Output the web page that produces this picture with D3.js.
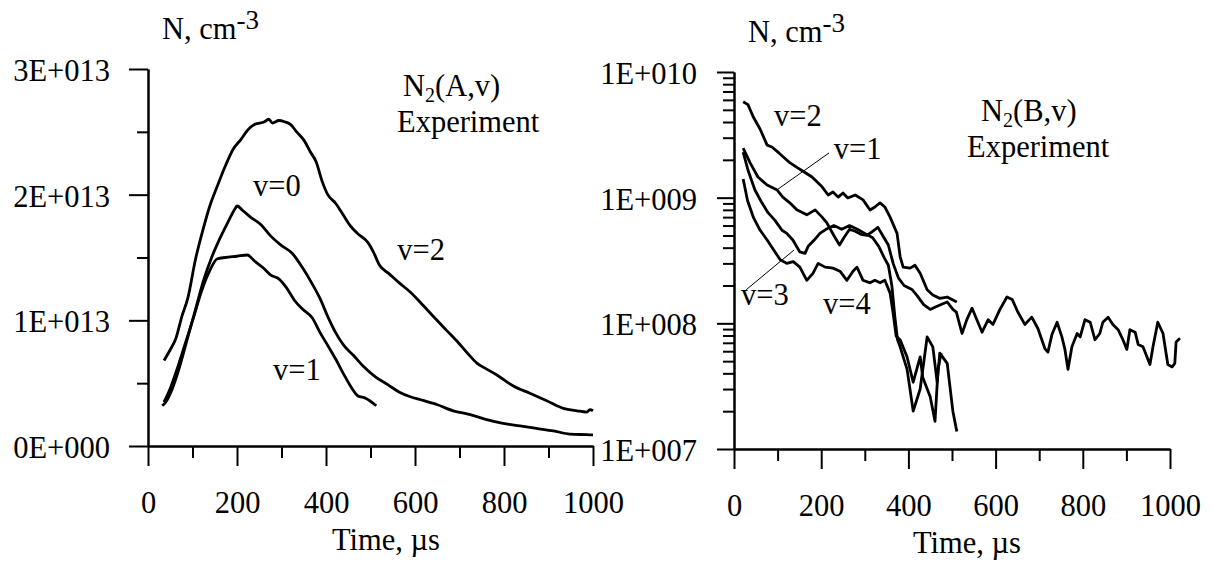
<!DOCTYPE html>
<html>
<head>
<meta charset="utf-8">
<script src="https://cdn.jsdelivr.net/npm/d3@7"></script>
<style>
  body { margin: 0; background: #fff; }
  svg, svg text { font-family: "Liberation Serif", "Tinos", "Times New Roman", "DejaVu Serif", serif; fill: #000; }
</style>
</head>
<body>
<svg id="chart" width="1213" height="563" font-family="Liberation Serif, Tinos, DejaVu Serif, serif"></svg>
<script>
// ---- data: left panel N2(A,v), [time us, N cm^-3]
const timeTicks = [0, 200, 400, 600, 800, 1000];
const timeMinorTicks = [100, 300, 500, 700, 900];
const yTicksA = [0, 1e13, 2e13, 3e13];
const yTickLabelsA = ["0E+000", "1E+013", "2E+013", "3E+013"];
const yMinorTicksA = [0.5e13, 1.5e13, 2.5e13];
const yTicksB = [1e7, 1e8, 1e9, 1e10];
const yTickLabelsB = ["1E+007", "1E+008", "1E+009", "1E+010"];

const A_v2 = [[36,0.68e13],[49,0.76e13],[63,0.86e13],[76,1.03e13],[89,1.17e13],[107,1.49e13],[125,1.74e13],[138,1.90e13],
  [156,2.07e13],[174,2.23e13],[191,2.36e13],[209,2.44e13],[223,2.51e13],[240,2.56e13],[262,2.58e13],[271,2.60e13],[280,2.57e13],
  [294,2.59e13],[307,2.58e13],[320,2.56e13],[334,2.50e13],[351,2.43e13],[365,2.34e13],[378,2.26e13],[391,2.11e13],[404,2.00e13],
  [422,1.93e13],[435,1.86e13],[453,1.76e13],[471,1.69e13],[494,1.62e13],[507,1.54e13],[520,1.44e13],[542,1.37e13],[564,1.30e13],
  [591,1.22e13],[618,1.12e13],[644,1.02e13],[671,0.92e13],[698,0.82e13],[720,0.73e13],[739,0.66e13],[762,0.61e13],[784,0.565e13],
  [820,0.48e13],[858,0.42e13],[896,0.36e13],[933,0.30e13],[964,0.28e13],[986,0.27e13],[993,0.29e13],[1000,0.28e13]];
const A_v0 = [[32,0.32e13],[40,0.35e13],[54,0.45e13],[71,0.63e13],[89,0.86e13],[107,1.09e13],[125,1.32e13],[143,1.50e13],
  [160,1.64e13],[178,1.77e13],[196,1.89e13],[200,1.91e13],[214,1.87e13],[231,1.82e13],[254,1.76e13],[276,1.67e13],[298,1.60e13],
  [325,1.53e13],[347,1.42e13],[369,1.29e13],[387,1.17e13],[404,1.03e13],[422,0.90e13],[440,0.80e13],[462,0.72e13],[485,0.63e13],
  [511,0.55e13],[538,0.49e13],[564,0.43e13],[591,0.39e13],[611,0.37e13],[649,0.33e13],[686,0.28e13],[724,0.25e13],[761,0.21e13],
  [798,0.18e13],[836,0.16e13],[873,0.14e13],[911,0.12e13],[948,0.095e13],[986,0.09e13],[1000,0.088e13]];
const A_v1 = [[36,0.35e13],[49,0.45e13],[67,0.63e13],[85,0.83e13],[103,1.03e13],[120,1.23e13],[138,1.39e13],[156,1.49e13],
  [174,1.50e13],[200,1.51e13],[223,1.52e13],[240,1.47e13],[258,1.42e13],[276,1.36e13],[294,1.33e13],[311,1.26e13],[329,1.16e13],
  [347,1.09e13],[369,1.02e13],[387,0.90e13],[404,0.80e13],[422,0.69e13],[440,0.57e13],[458,0.46e13],[471,0.40e13],[489,0.38e13],
  [513,0.32e13]];

// ---- data: right panel N2(B,v), [time us, N cm^-3]
const B_v2 = [[21,5.8e9],[32,5.5e9],[44,4.4e9],[60,3.5e9],[76,2.62e9],[87,2.53e9],[103,2.27e9],[126,1.92e9],[147,1.72e9],
  [161,1.60e9],[179,1.46e9],[202,1.22e9],[216,1.05e9],[227,1.11e9],[239,1.01e9],[250,1.09e9],[261,9.95e8],[278,1.05e9],
  [296,9.6e8],[312,7.98e8],[323,8.43e8],[335,9.08e8],[346,8.43e8],[358,7.0e8],[374,5.2e8],[381,3.4e8],[388,2.8e8],[404,2.75e8],
  [415,2.9e8],[427,2.5e8],[443,1.85e8],[456,1.68e8],[472,1.58e8],[489,1.62e8],[511,1.48e8]];
const B_v1 = [[21,2.48e9],[37,1.89e9],[55,1.46e9],[76,1.26e9],[99,1.15e9],[112,1.01e9],[128,9.1e8],[144,8.0e8],[167,7.3e8],
  [186,8.0e8],[202,7.0e8],[213,6.3e8],[229,5.0e8],[242,4.2e8],[252,4.8e8],[265,5.6e8],[278,5.4e8],[292,5.1e8],[305,5.0e8],
  [318,5.4e8],[330,5.8e8],[341,5.0e8],[354,4.2e8],[365,3.0e8],[377,2.3e8],[390,2.0e8],[408,1.86e8],[420,1.66e8],[435,1.41e8],
  [450,1.29e8],[462,1.35e8],[475,1.41e8],[489,1.48e8],[502,1.29e8],[510,1.23e8],[523,8.3e7],[534,1.07e8],[546,1.32e8],
  [569,8.5e7],[583,1.07e8],[594,9.8e7],[610,1.29e8],[626,1.62e8],[638,1.55e8],[651,1.23e8],[667,9.8e7],[683,1.12e8],
  [697,9.1e7],[713,6.3e7],[720,5.9e7],[729,8.1e7],[741,1.02e8],[752,7.8e7],[759,6.2e7],[766,4.3e7],[775,6.5e7],[787,8.3e7],
  [794,7.8e7],[805,1.07e8],[817,1.02e8],[828,7.4e7],[839,8.3e7],[846,1.02e8],[858,1.12e8],[869,9.8e7],[881,8.9e7],[892,7.4e7],
  [901,6.2e7],[908,8.9e7],[920,8.5e7],[927,6.8e7],[938,6.5e7],[954,4.7e7],[961,6.5e7],[972,1.02e8],[984,8.3e7],[995,4.7e7],
  [1005,4.5e7],[1011,4.8e7],[1014,7.1e7],[1023,7.6e7]];
const B_v3 = [[21,2.3e9],[32,1.66e9],[48,1.15e9],[64,9.1e8],[78,7.6e8],[94,6.6e8],[110,5.5e8],[121,5.2e8],[135,4.6e8],
  [151,3.7e8],[163,3.6e8],[170,4.1e8],[184,4.6e8],[197,5.2e8],[211,5.6e8],[229,6.0e8],[247,5.6e8],[265,6.0e8],[283,5.6e8],
  [300,5.2e8],[318,4.8e8],[332,4.1e8],[345,3.3e8],[354,2.9e8],[362,2.0e8],[369,1.12e8],[375,7.4e7],[381,6.5e7],[397,4.3e7],
  [411,2.0e7],[427,3.0e7],[443,7.8e7],[456,6.5e7],[466,3.4e7],[472,5.8e7],[489,4.8e7],[502,2.0e7],[511,1.38e7]];
const B_v4 = [[21,1.41e9],[31,9.5e8],[45,6.9e8],[60,5.5e8],[76,4.6e8],[106,3.2e8],[121,3.0e8],[136,3.1e8],[151,2.8e8],
  [167,2.2e8],[181,2.5e8],[193,3.0e8],[209,2.8e8],[227,2.75e8],[243,2.6e8],[259,2.2e8],[273,2.6e8],[282,2.8e8],[296,2.2e8],
  [312,2.1e8],[323,2.2e8],[335,2.1e8],[346,2.2e8],[358,1.74e8],[365,1.2e8],[372,7.9e7],[381,7.4e7],[397,5.4e7],[411,3.4e7],
  [427,5.4e7],[433,3.7e7],[450,2.6e7],[461,1.66e7],[468,4.3e7],[475,5.8e7]];

// label anchors in data space: [text, time, N]
const labelsA = [["v=0", 236, 1.99e13], ["v=2", 560, 1.48e13], ["v=1", 281, 0.525e13]];
const labelsB = [["v=2", 92, 3.7e9], ["v=1", 229, 2.03e9], ["v=3", 16, 1.4e8], ["v=4", 204, 1.19e8]];
const leadersB = [[[101, 1.17e9], [218, 2.27e9]], [[28, 1.85e8], [138, 3.84e8]]];

const svg = d3.select("#chart");
const fs = 30.5;
const serif = "Liberation Serif, Tinos, DejaVu Serif, serif";

const xL = d3.scaleLinear().domain([0, 1000]).range([148, 593]);
const yL = d3.scaleLinear().domain([0, 3e13]).range([446, 69]);
const xR = d3.scaleLinear().domain([0, 1000]).range([734, 1170]);
const yR = d3.scaleLog().domain([1e7, 1e10]).range([449, 72]);

function styleAxis(g) {
  g.attr("font-family", serif);
  g.selectAll("path, line").attr("stroke", "#000").attr("stroke-width", 2);
  g.selectAll("text").attr("font-size", fs).attr("font-family", serif);
}

function xAxis(x, y0) {
  svg.append("g")
    .attr("transform", `translate(0,${y0})`)
    .call(d3.axisBottom(x).tickValues(timeMinorTicks).tickSize(12).tickSizeOuter(0).tickFormat(""))
    .call(styleAxis);
  svg.append("g")
    .attr("transform", `translate(0,${y0})`)
    .call(d3.axisBottom(x).tickValues(timeTicks).tickSize(20).tickSizeOuter(0).tickFormat(d3.format("d")))
    .call(styleAxis)
    .call(g => g.selectAll("text").attr("y", 67).attr("dy", 0));
}

// left axes
xAxis(xL, 446);
svg.append("g")
  .attr("transform", "translate(148,0)")
  .call(d3.axisLeft(yL).tickValues(yMinorTicksA).tickSize(11).tickSizeOuter(0).tickFormat(""))
  .call(styleAxis);
svg.append("g")
  .attr("transform", "translate(148,0)")
  .call(d3.axisLeft(yL).tickValues(yTicksA).tickSize(19).tickSizeOuter(0)
    .tickFormat((d, i) => yTickLabelsA[i]))
  .call(styleAxis)
  .call(g => g.selectAll("text").attr("x", -38).attr("dy", "0.38em"));

// right axes
xAxis(xR, 449);
const logMinor = yR.ticks().filter(v => Math.abs(Math.log10(v) - Math.round(Math.log10(v))) > 1e-6);
svg.append("g")
  .attr("transform", "translate(734,0)")
  .call(d3.axisLeft(yR).tickValues(logMinor).tickSize(11).tickSizeOuter(0).tickFormat(""))
  .call(styleAxis);
svg.append("g")
  .attr("transform", "translate(734,0)")
  .call(d3.axisLeft(yR).tickValues(yTicksB).tickSize(17).tickSizeOuter(0)
    .tickFormat((d, i) => yTickLabelsB[i]))
  .call(styleAxis)
  .call(g => g.selectAll("text").attr("x", -37).attr("dy", "0.38em"));

// curves
function drawCurves(series, x, y, curve) {
  const line = d3.line().x(d => x(d[0])).y(d => y(d[1])).curve(curve);
  svg.append("g").selectAll("path")
    .data(series)
    .join("path")
    .attr("d", line)
    .attr("fill", "none")
    .attr("stroke", "#000")
    .attr("stroke-width", 2.8)
    .attr("stroke-linejoin", "round");
}
drawCurves([A_v2, A_v0, A_v1], xL, yL, d3.curveMonotoneX);
drawCurves([B_v2, B_v1, B_v3, B_v4], xR, yR, d3.curveLinear);

// leader lines
svg.append("g").selectAll("line")
  .data(leadersB)
  .join("line")
  .attr("x1", d => xR(d[0][0])).attr("y1", d => yR(d[0][1]))
  .attr("x2", d => xR(d[1][0])).attr("y2", d => yR(d[1][1]))
  .attr("stroke", "#000").attr("stroke-width", 1);

// curve labels
function curveLabels(labels, x, y) {
  svg.append("g").selectAll("text")
    .data(labels)
    .join("text")
    .attr("x", d => x(d[1]))
    .attr("y", d => y(d[2]))
    .attr("font-family", serif)
    .attr("font-size", fs)
    .text(d => d[0]);
}
curveLabels(labelsA, xL, yL);
curveLabels(labelsB, xR, yR);

function addText(xpos, ypos) {
  return svg.append("text").attr("x", xpos).attr("y", ypos)
    .attr("font-family", serif).attr("font-size", fs);
}

// titles
function species(xpos, ypos, letter) {
  const t = addText(xpos, ypos);
  t.append("tspan").text("N");
  t.append("tspan").attr("font-size", 20).attr("dy", 6).text("2");
  t.append("tspan").attr("dy", -6).text(`(${letter},v)`);
}
species(403, 96, "A");
addText(397, 132).text("Experiment");
species(981, 121, "B");
addText(967, 157).text("Experiment");

function yTitle(xpos, ypos) {
  const t = addText(xpos, ypos);
  t.append("tspan").text("N, cm");
  t.append("tspan").attr("font-size", 27).attr("dy", -10).text("-3");
}
yTitle(162, 39);
yTitle(748, 42);

addText(386, 550).attr("text-anchor", "middle").text("Time, \u00b5s");
addText(967, 553).attr("text-anchor", "middle").text("Time, \u00b5s");
</script>
</body>
</html>
